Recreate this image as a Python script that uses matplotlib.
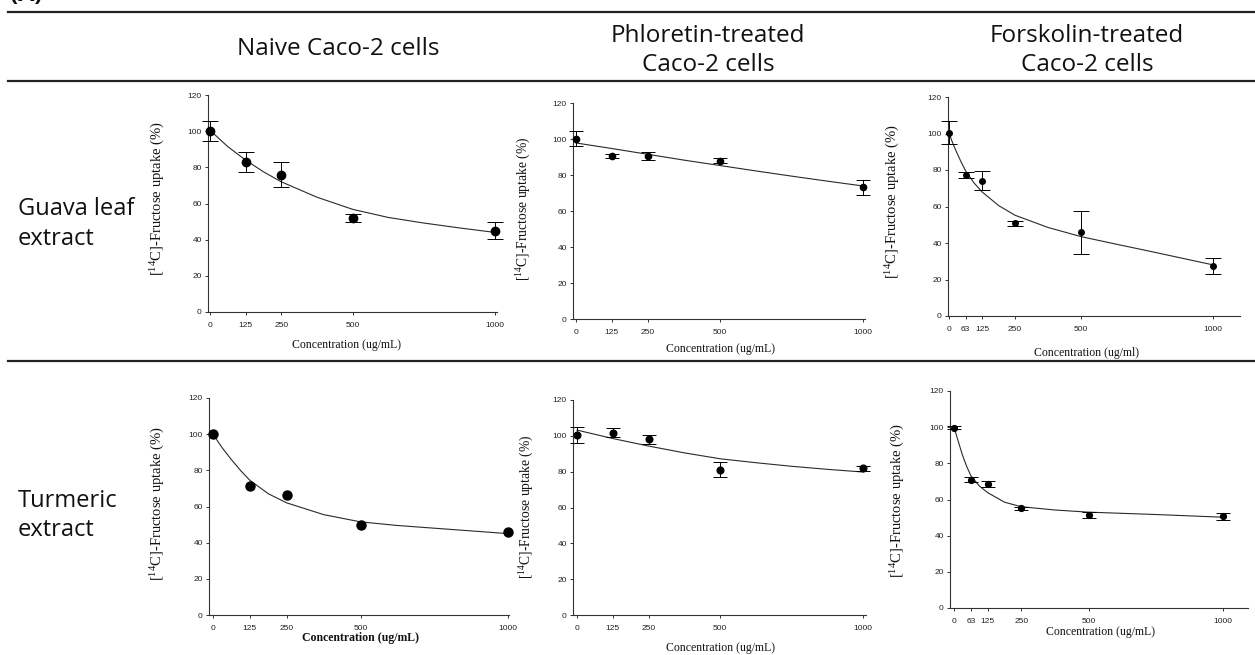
import matplotlib
matplotlib.use("Agg")
import matplotlib.pyplot as plt
from matplotlib.lines import Line2D

plt.rcParams["mathtext.fontset"] = "custom"
plt.rcParams["mathtext.rm"] = "Liberation Serif"
plt.rcParams["mathtext.it"] = "Liberation Serif:italic"

# ---------------- data ----------------
col_titles = [["Naive Caco-2 cells"],
              ["Phloretin-treated", "Caco-2 cells"],
              ["Forskolin-treated", "Caco-2 cells"]]
row_titles = [["Guava leaf", "extract"], ["Turmeric", "extract"]]

ticks_5 = [0, 125, 250, 500, 1000]
ticks_6 = [0, 63, 125, 250, 500, 1000]

# Guava leaf extract
guava_naive_x = [0, 125, 250, 500, 1000]
guava_naive_y = [100, 83, 76, 52, 45]
guava_naive_err = [5.5, 5.4, 7.0, 2.1, 4.9]
guava_naive_fit_x = [0, 62, 125, 188, 250, 375, 500, 625, 750, 875, 1000]
guava_naive_fit_y = [100.5, 91.5, 84, 77.5, 72, 63.5, 56.8, 52.3, 49.2, 46.5, 44]

guava_phlor_x = [0, 125, 250, 500, 1000]
guava_phlor_y = [100.2, 90.6, 90.6, 88, 73.1]
guava_phlor_err = [4.2, 1.2, 2.4, 1.2, 4.0]
guava_phlor_fit_x = [0, 125, 250, 375, 500, 625, 750, 875, 1000]
guava_phlor_fit_y = [97.8, 94.7, 91.5, 88.3, 85.3, 82.3, 79.4, 76.6, 73.9]

guava_forsk_x = [0, 63, 125, 250, 500, 1000]
guava_forsk_y = [100.4, 77.4, 74.0, 50.7, 45.8, 27.4]
guava_forsk_err = [6.2, 1.7, 5.2, 1.6, 11.8, 4.3]
guava_forsk_fit_x = [0, 16, 31, 47, 63, 94, 125, 188, 250, 375, 500, 625, 750, 875, 1000]
guava_forsk_fit_y = [100, 94, 89, 84, 79.5, 73, 68, 60.5, 55.2, 48.5, 43.5, 39.6, 35.8, 31.9, 28]

# Turmeric extract
turm_naive_x = [0, 125, 250, 500, 1000]
turm_naive_y = [100.2, 71.2, 66.6, 49.5, 45.8]
turm_naive_fit_x = [0, 31, 62, 94, 125, 188, 250, 375, 500, 625, 750, 875, 1000]
turm_naive_fit_y = [100, 92.5, 86, 79.8, 74.5, 67, 62, 55.5, 51.5, 49.5, 48, 46.5, 45]

turm_phlor_x = [0, 125, 250, 500, 1000]
turm_phlor_y = [100.3, 101.6, 98, 81.2, 81.8]
turm_phlor_err = [4.5, 2.5, 2.5, 4.0, 1.3]
turm_phlor_fit_x = [0, 125, 250, 375, 500, 625, 750, 875, 1000]
turm_phlor_fit_y = [103.2, 98.5, 94.3, 90.5, 87.2, 85, 83, 81.3, 79.8]

turm_forsk_x = [0, 63, 125, 250, 500, 1000]
turm_forsk_y = [99.8, 71, 68.7, 55.2, 51.5, 50.6]
turm_forsk_err = [1.0, 1.5, 1.6, 0.8, 1.7, 1.8]
turm_forsk_fit_x = [0, 16, 31, 47, 63, 94, 125, 188, 250, 375, 500, 750, 1000]
turm_forsk_fit_y = [100, 92, 84.7, 78.3, 73, 67.5, 63.8, 58.5, 56, 54.2, 53, 51.7, 50.2]

xlabel_mL = "Concentration (ug/mL)"
xlabel_ml = "Concentration (ug/ml)"
ylabel = r"[$^{\mathregular{14}}$C]-Fructose uptake (%)"
yticks = [0, 20, 40, 60, 80, 100, 120]

# ---------------- layout ----------------
W, H = 1255, 655
fig = plt.figure(figsize=(W / 100, H / 100), dpi=100)
fig.patch.set_facecolor("white")

HDR = "Open Sans"
SERIF = "Liberation Serif"
SANS = "Liberation Sans"


def fx(px):
    return px / W


def fy(py):
    return 1 - py / H


panels = [
    dict(box=(208, 95, 497, 312), xlim=(-7, 1007), ticks=ticks_5, ylx=167, yly=198,
         xlx=347, xly=345, ms=6.0, cap=6.0, xl=xlabel_mL, bold=False, yfs=10.5,
         x=guava_naive_x, y=guava_naive_y, e=guava_naive_err,
         fx_=guava_naive_fit_x, fy_=guava_naive_fit_y),
    dict(box=(573, 103, 865, 319), xlim=(-10.5, 1007), ticks=ticks_5, ylx=533, yly=209,
         xlx=720, xly=349, ms=4.5, cap=5.0, xl=xlabel_mL, bold=False, yfs=9.8,
         x=guava_phlor_x, y=guava_phlor_y, e=guava_phlor_err,
         fx_=guava_phlor_fit_x, fy_=guava_phlor_fit_y),
    dict(box=(948, 97, 1240, 316), xlim=(-4, 1102), ticks=ticks_6, ylx=902, yly=201,
         xlx=1086, xly=353, ms=4.0, cap=6.0, xl=xlabel_ml, bold=False, yfs=10.5,
         x=guava_forsk_x, y=guava_forsk_y, e=guava_forsk_err,
         fx_=guava_forsk_fit_x, fy_=guava_forsk_fit_y),
    dict(box=(209, 398, 509, 615), xlim=(-13.5, 1003), ticks=ticks_5, ylx=167, yly=503,
         xlx=361, xly=638, ms=6.5, cap=0, xl=xlabel_mL, bold=True, yfs=10.5,
         x=turm_naive_x, y=turm_naive_y, e=None,
         fx_=turm_naive_fit_x, fy_=turm_naive_fit_y),
    dict(box=(573, 400, 866, 615), xlim=(-14, 1010), ticks=ticks_5, ylx=536, yly=507,
         xlx=720, xly=648, ms=4.8, cap=5.0, xl=xlabel_mL, bold=False, yfs=9.8,
         x=turm_phlor_x, y=turm_phlor_y, e=turm_phlor_err,
         fx_=turm_phlor_fit_x, fy_=turm_phlor_fit_y),
    dict(box=(950, 391, 1248, 608), xlim=(-15, 1093), ticks=ticks_6, ylx=907, yly=500,
         xlx=1100, xly=632, ms=4.2, cap=5.0, xl=xlabel_mL, bold=False, yfs=10.5,
         x=turm_forsk_x, y=turm_forsk_y, e=turm_forsk_err,
         fx_=turm_forsk_fit_x, fy_=turm_forsk_fit_y),
]

for p in panels:
    l, t, r, b = p["box"]
    ax = fig.add_axes([fx(l), fy(b), (r - l) / W, (b - t) / H])
    ax.plot(p["fx_"], p["fy_"], color="#2a2a2a", lw=0.8, zorder=2, clip_on=False)
    if p["e"] is not None:
        cont = ax.errorbar(p["x"], p["y"], yerr=p["e"], fmt="o", color="black", ms=p["ms"],
                           capsize=p["cap"], elinewidth=0.7, capthick=0.7, zorder=3)
        for child in cont.get_children():
            child.set_clip_on(False)
    else:
        ax.plot(p["x"], p["y"], "o", color="black", ms=p["ms"], zorder=3, clip_on=False)
    ax.set_xlim(*p["xlim"])
    ax.set_ylim(0, 120)
    ax.set_xticks(p["ticks"])
    ax.set_yticks(yticks)
    for s in ("top", "right"):
        ax.spines[s].set_visible(False)
    for s in ("left", "bottom"):
        ax.spines[s].set_linewidth(0.8)
        ax.spines[s].set_color("#333333")
    ax.tick_params(axis="both", direction="out", length=2.5, width=0.7, color="#333333",
                   labelsize=6, labelcolor="#222222")
    ax.tick_params(axis="y", pad=2)
    ax.tick_params(axis="x", pad=5)
    for lab in ax.get_xticklabels() + ax.get_yticklabels():
        lab.set_fontfamily(SANS)
    ax.patch.set_alpha(0)

    ax.set_ylabel(ylabel, fontsize=p["yfs"], fontfamily=SERIF, color="#111111")
    ax.yaxis.set_label_coords((p["ylx"] - l) / (r - l), (b - p["yly"]) / (b - t))
    ax.set_xlabel(p["xl"], fontsize=8.5, fontfamily=SERIF, color="#111111",
                  fontweight="bold" if p["bold"] else "normal")
    ax.xaxis.set_label_coords((p["xlx"] - l) / (r - l), (b - (p["xly"] - 6)) / (b - t))

# headers
hdr_pos = [(338, [55]), (708, [42, 71]), (1087, [42, 71])]
for (cx, baselines), lines in zip(hdr_pos, col_titles):
    for by, txt in zip(baselines, lines):
        fig.text(fx(cx), fy(by), txt, ha="center", va="baseline", fontsize=17.5,
                 fontfamily=HDR, color="#111111")

# row labels
row_pos = [(18, [215, 245]), (18, [507, 536])]
for (lx, baselines), lines in zip(row_pos, row_titles):
    for by, txt in zip(baselines, lines):
        fig.text(fx(lx), fy(by), txt, ha="left", va="baseline", fontsize=17,
                 fontfamily=HDR, color="#111111")

# panel letter (cut at top edge as in the source figure)
fig.text(fx(10), fy(1), "(A)", ha="left", va="baseline", fontsize=17,
         fontweight="bold", fontfamily=HDR, color="#111111")

# rule lines
for yy in (12, 81, 361):
    fig.add_artist(Line2D([fx(8), 1], [fy(yy), fy(yy)], transform=fig.transFigure,
                          lw=1.6, color="#222222"))

fig.savefig("out.png", dpi=100, facecolor="white")
